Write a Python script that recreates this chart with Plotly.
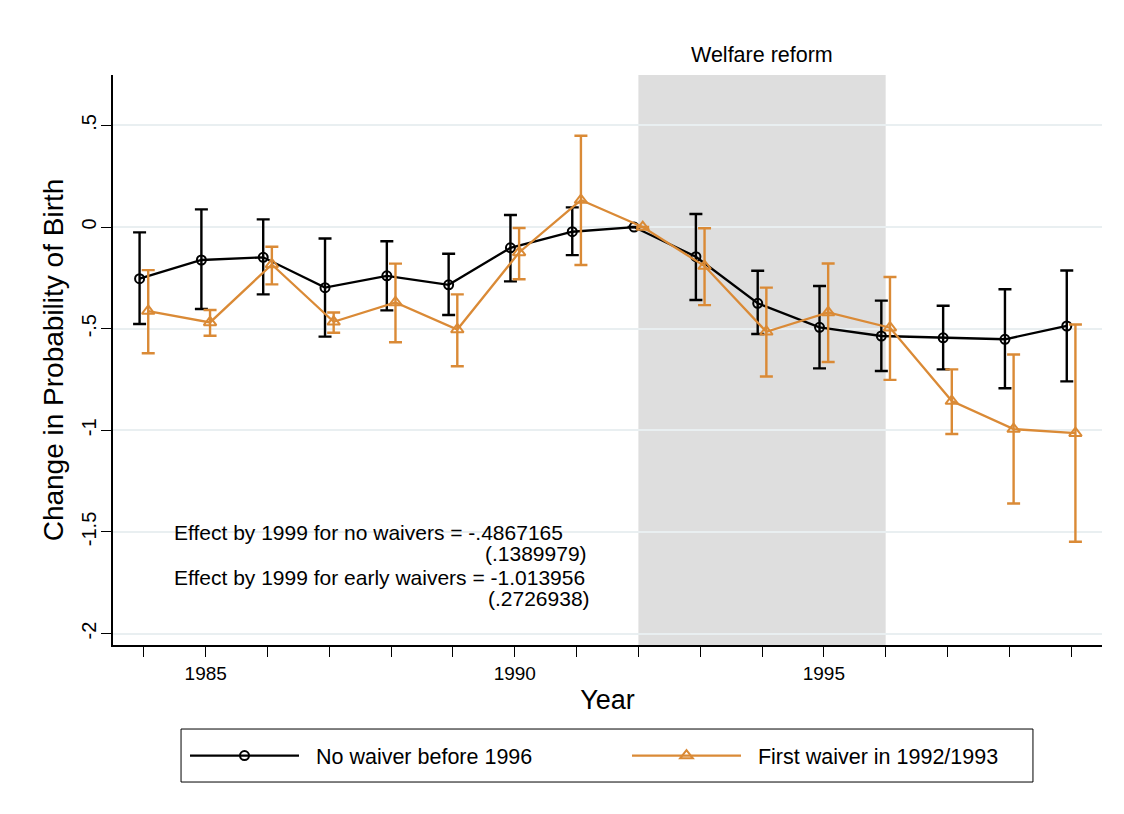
import plotly.graph_objects as go

years = list(range(1984, 2000))

# No waiver before 1996
nw_est = [-0.254, -0.162, -0.149, -0.298, -0.240, -0.284, -0.102, -0.023, 0.0,
          -0.146, -0.375, -0.493, -0.536, -0.545, -0.552, -0.4867165]
nw_hi = [-0.026, 0.087, 0.038, -0.056, -0.070, -0.131, 0.059, 0.097, 0.0,
         0.064, -0.215, -0.290, -0.362, -0.387, -0.306, -0.214]
nw_lo = [-0.477, -0.403, -0.331, -0.539, -0.410, -0.433, -0.267, -0.138, 0.0,
         -0.359, -0.526, -0.695, -0.708, -0.700, -0.793, -0.759]

# First waiver in 1992/1993
ew_est = [-0.413, -0.469, -0.184, -0.466, -0.371, -0.504, -0.125, 0.133, 0.0,
          -0.192, -0.515, -0.420, -0.495, -0.856, -0.994, -1.013956]
ew_hi = [-0.212, -0.408, -0.097, -0.420, -0.180, -0.331, -0.005, 0.449, 0.0,
         -0.006, -0.298, -0.179, -0.246, -0.700, -0.627, -0.479]
ew_lo = [-0.621, -0.535, -0.282, -0.520, -0.567, -0.685, -0.257, -0.187, 0.0,
         -0.384, -0.735, -0.664, -0.752, -1.018, -1.360, -1.548]

offset = 0.07
ytick_vals = [0.5, 0, -0.5, -1, -1.5, -2]
ytick_text = [".5", "0", "-.5", "-1", "-1.5", "-2"]
xtick_labels = {1985: "1985", 1990: "1990", 1995: "1995"}

notes = [
    ("Effect by 1999 for no waivers = -.4867165", 1984.45, -1.505),
    ("(.1389979)", 1989.48, -1.608),
    ("Effect by 1999 for early waivers = -1.013956", 1984.45, -1.722),
    ("(.2726938)", 1989.53, -1.825),
]

BLACK = "#000000"
ORANGE = "#DA8A36"
FONT = "Liberation Sans"
NB = "\u00a0\u00a0"

fig = go.Figure()

fig.add_shape(type="rect", xref="x", yref="paper", x0=1992, x1=1996, y0=0, y1=1,
              fillcolor="#DEDEDE", line=dict(width=0), layer="between")

# legend frame
fig.add_shape(type="rect", xref="paper", yref="paper", x0=0.0688, x1=0.9302,
              y0=-0.2404, y1=-0.1474, line=dict(color="black", width=1),
              fillcolor="rgba(0,0,0,0)")

fig.add_trace(go.Scatter(
    x=[y - offset for y in years], y=nw_est, mode="lines+markers",
    name=NB + "No waiver before 1996",
    line=dict(color=BLACK, width=2.3),
    marker=dict(symbol="circle-open", size=9, color=BLACK, line=dict(width=2)),
    error_y=dict(type="data", symmetric=False,
                 array=[h - e for h, e in zip(nw_hi, nw_est)],
                 arrayminus=[e - l for e, l in zip(nw_est, nw_lo)],
                 color=BLACK, thickness=2.4, width=6.5),
))
fig.add_trace(go.Scatter(
    x=[y + offset for y in years], y=ew_est, mode="lines+markers",
    name=NB + "First waiver in 1992/1993",
    line=dict(color=ORANGE, width=2.3),
    marker=dict(symbol="triangle-up-open", size=11, color=ORANGE, line=dict(width=2)),
    error_y=dict(type="data", symmetric=False,
                 array=[h - e for h, e in zip(ew_hi, ew_est)],
                 arrayminus=[e - l for e, l in zip(ew_est, ew_lo)],
                 color=ORANGE, thickness=2.4, width=6.5),
))

for txt, x, y in notes:
    fig.add_annotation(text=txt, x=x, y=y, xref="x", yref="y", xanchor="left",
                       yanchor="middle", showarrow=False,
                       font=dict(family=FONT, size=21, color="black"))

fig.add_annotation(text="Welfare reform", x=1994, y=1.035, xref="x", yref="paper",
                   xanchor="center", yanchor="middle", showarrow=False,
                   font=dict(family=FONT, size=21.5, color="black"))

fig.update_layout(
    width=1124, height=814,
    margin=dict(l=113, r=22, t=75, b=169),
    paper_bgcolor="white", plot_bgcolor="white",
    font=dict(family=FONT, size=19, color="black"),
    showlegend=True,
    legend=dict(orientation="h", x=0.0728, xanchor="left", y=-0.158, yanchor="top",
                borderwidth=0, font=dict(size=21.5),
                itemwidth=109, entrywidth=318, entrywidthmode="pixels",
                bgcolor="rgba(0,0,0,0)"),
    xaxis=dict(range=[1983.5, 1999.5], tickmode="array", tickvals=years,
               ticktext=[xtick_labels.get(y, "") for y in years],
               showgrid=False, zeroline=False, showline=True, linecolor="black",
               linewidth=1.5, ticks="outside", ticklen=10, tickwidth=1.2,
               tickcolor="black", tickfont=dict(size=19),
               title=dict(text="Year", font=dict(size=27), standoff=8)),
    yaxis=dict(range=[-2.056, 0.748], tickmode="array", tickvals=ytick_vals,
               ticktext=ytick_text, tickangle=-90, ticklabelstandoff=-3,
               showgrid=True, gridcolor="#E9EFF1", gridwidth=2,
               zeroline=False, showline=True, linecolor="black", linewidth=1.5,
               ticks="outside", ticklen=10, tickwidth=1.2, tickcolor="black",
               tickfont=dict(size=20),
               title=dict(text="Change in Probability of Birth", font=dict(size=28),
                          standoff=6)),
)

fig.write_html("out.html")
